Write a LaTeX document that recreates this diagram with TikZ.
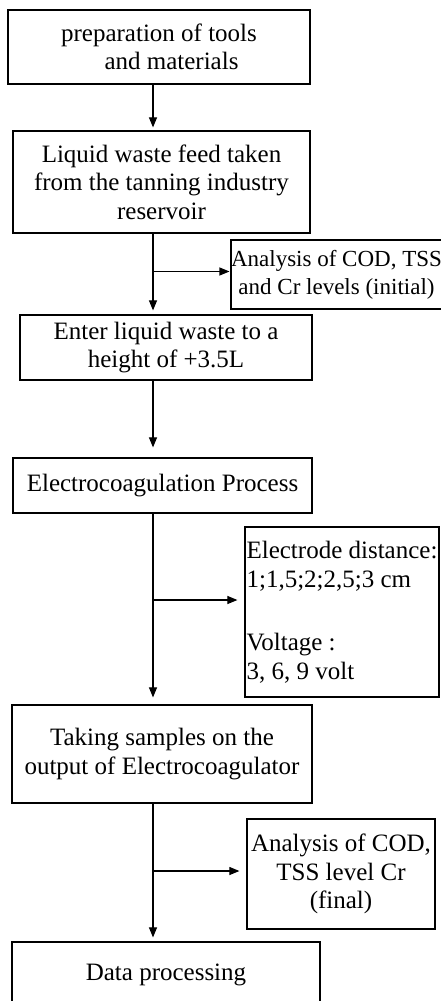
\documentclass[tikz,border=0pt]{standalone}
\usepackage{fontspec}
\setmainfont{Liberation Serif}
\usetikzlibrary{arrows.meta}

\begin{document}
\begin{tikzpicture}[x=1pt, y=-1pt,
    stepbox/.style={draw, line width=1.2pt, inner sep=0pt, align=center,
      font=\fontsize{25}{28.5}\selectfont},
    flow/.style={line width=1.1pt, -{Triangle[length=10pt,width=8pt]}, shorten >=4pt}]
  \useasboundingbox (0,0) rectangle (441,1001);
  % Main steps (left column)
  \node[stepbox, minimum width=302pt, minimum height=74pt] (prep) at (159,47)
    {preparation of tools\\ \quad and materials};
  \node[stepbox, minimum width=297pt, minimum height=102pt] (feed) at (161.5,182)
    {Liquid waste feed taken\\from the tanning industry\\reservoir};
  \node[stepbox, minimum width=292pt, minimum height=65pt] (enter) at (166,347.5)
    {Enter liquid waste to a\\height of +3.5L};
  \node[stepbox, minimum width=299pt, minimum height=55pt] (ec) at (162.5,485.5)
    {Electrocoagulation Process};
  \node[stepbox, minimum width=300pt, minimum height=98pt] (sample) at (162,754)
    {Taking samples on the\\output of Electrocoagulator};
  \node[stepbox, minimum width=308pt, minimum height=66pt] (data) at (166,975)
    {Data processing};
  % Side boxes (right column)
  \node[stepbox, minimum width=208pt, minimum height=69pt,
    font=\fontsize{23}{28}\selectfont] (init) at (336.5,274.5)
    {Analysis of COD, TSS\\and Cr levels (initial)};
  \node[stepbox, minimum width=194pt, minimum height=170pt, align=left] (param) at (342,612)
    {Electrode distance:\\1;1,5;2;2,5;3 cm\\[35pt]Voltage :\\3, 6, 9 volt};
  \node[stepbox, minimum width=188pt, minimum height=110pt] (final) at (341,874)
    {Analysis of COD,\\TSS level Cr\\(final)};
  % Spine of the flow
  \coordinate (spine) at (153,0);
  \draw[flow, shorten >=3pt] (prep.south -| spine) -- (feed.north -| spine);
  \draw[flow] (feed.south -| spine) -- (enter.north -| spine);
  \draw[flow, shorten >=10pt] (enter.south -| spine) -- (ec.north -| spine);
  \draw[flow, shorten >=7pt] (ec.south -| spine) -- (sample.north -| spine);
  \draw[flow] (sample.south -| spine) -- (data.north -| spine);
  % Branches to the analyses
  \draw[flow, shorten >=1pt] ([yshift=3pt]init.west -| spine) -- ([yshift=3pt]init.west);
  \draw[flow, shorten >=7pt] ([yshift=12pt]param.west -| spine) -- ([yshift=12pt]param.west);
  \draw[flow, shorten >=7pt] ([yshift=3pt]final.west -| spine) -- ([yshift=3pt]final.west);
\end{tikzpicture}
\end{document}
